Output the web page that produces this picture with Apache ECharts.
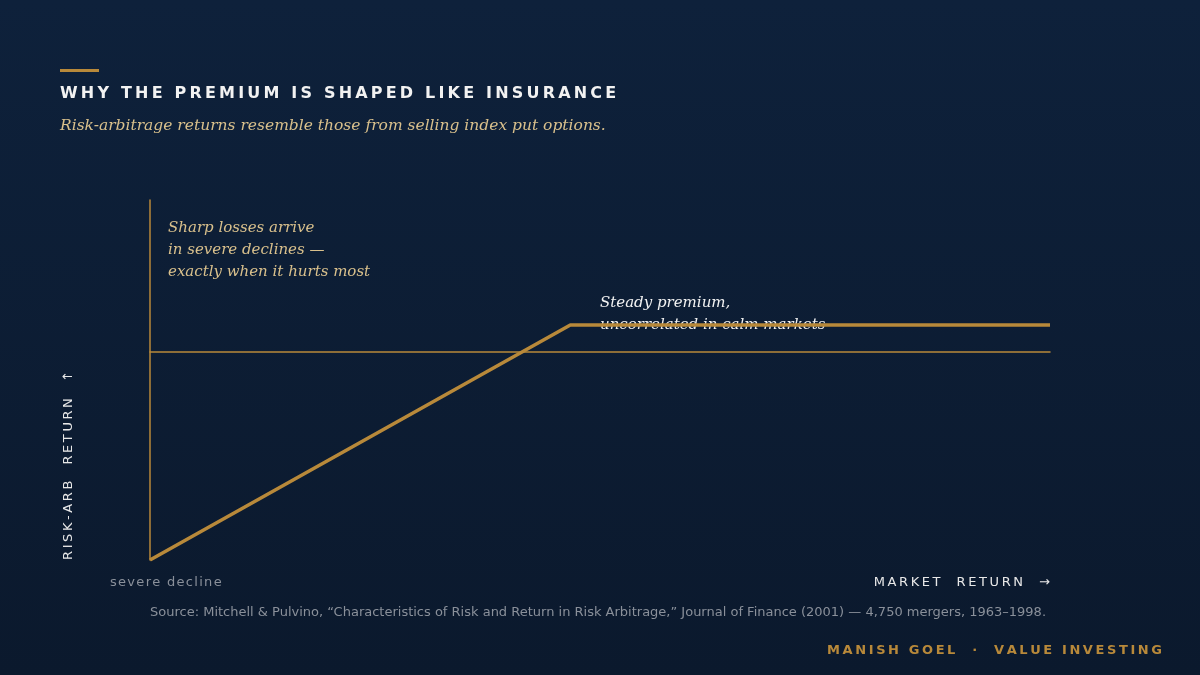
<!DOCTYPE html>
<html>
<head>
<meta charset="utf-8">
<script src="https://cdn.jsdelivr.net/npm/echarts@6/dist/echarts.min.js"></script>
<style>html,body{margin:0;padding:0;background:#0c1d34;}#main{width:1200px;height:675px;}</style>
</head>
<body>
<div id="main"></div>
<script>
// market return (0 = severe decline, 100 = strong market) vs risk-arb return
var marketX = [0, 46.7, 100];
var arbReturn = [-208, 27, 27];
var xRange = [0, 100];
var yRange = [-208, 152];

function spaced(s, sp) { return s.split('').join(sp || '\u2009'); }

var gold = '#b8893a';
var myChart = echarts.init(document.getElementById('main'));
option = {
	backgroundColor: {
		type: 'linear', x: 0, y: 0, x2: 0, y2: 1,
		colorStops: [{ offset: 0, color: '#0e213b' }, { offset: 1, color: '#0b192d' }]
	},
	grid: { left: 150, right: 150, top: 200, bottom: 115 },
	xAxis: {
		type: 'value', min: xRange[0], max: xRange[1],
		axisLine: { onZero: true, lineStyle: { color: gold, width: 1.5 } },
		axisTick: { show: false }, axisLabel: { show: false }, splitLine: { show: false }
	},
	yAxis: {
		type: 'value', min: yRange[0], max: yRange[1],
		axisLine: { show: true, lineStyle: { color: gold, width: 1.5 } },
		axisTick: { show: false }, axisLabel: { show: false }, splitLine: { show: false }
	},
	series: [{
		type: 'line',
		data: marketX.map(function (x, i) { return [x, arbReturn[i]]; }),
		symbol: 'none',
		lineStyle: { color: gold, width: 3.5 },
		silent: true
	}],
	graphic: [
		{ type: 'rect', left: 60, top: 69, shape: { width: 39, height: 3 }, style: { fill: gold } },
		{ type: 'text', left: 60, top: 86, style: { text: spaced('WHY THE PREMIUM IS SHAPED LIKE INSURANCE', '\u200A\u200A'), fill: '#f2f2f2', font: 'bold 16px "DejaVu Sans"' } },
		{ type: 'text', left: 60, top: 118, style: { text: 'Risk-arbitrage returns resemble those from selling index put options.', fill: '#d9c08c', font: 'italic 15.5px "DejaVu Serif"' } },
		{ type: 'text', left: 168, top: 217, style: { text: 'Sharp losses arrive\nin severe declines —\nexactly when it hurts most', fill: '#d9c08c', font: 'italic 15px "DejaVu Serif"', lineHeight: 22 } },
		{ type: 'text', left: 600, top: 292, style: { text: 'Steady premium,\nuncorrelated in calm markets', fill: '#f2f2f2', font: 'italic 15px "DejaVu Serif"', lineHeight: 22 } },
		{ type: 'text', x: 62, y: 560, rotation: Math.PI / 2, style: { text: spaced('RISK-ARB  RETURN  ↑'), fill: '#e8e8e8', font: '13px "DejaVu Sans"', verticalAlign: 'top' } },
		{ type: 'text', left: 110, top: 576, style: { text: spaced('severe decline', '\u200A'), fill: '#8a909a', font: '13px "DejaVu Sans"' } },
		{ type: 'text', right: 150, top: 576, style: { text: spaced('MARKET  RETURN  →'), fill: '#e8e8e8', font: '13px "DejaVu Sans"' } },
		{ type: 'text', left: 150, top: 606, style: { text: 'Source: Mitchell & Pulvino, “Characteristics of Risk and Return in Risk Arbitrage,” Journal of Finance (2001) — 4,750 mergers, 1963–1998.', fill: '#8a909a', font: '13px "DejaVu Sans"' } },
		{ type: 'text', right: 38, top: 644, style: { text: spaced('MANISH GOEL  ·  VALUE INVESTING'), fill: gold, font: 'bold 13px "DejaVu Sans"' } }
	]
};
myChart.setOption(option);
</script>
</body>
</html>
